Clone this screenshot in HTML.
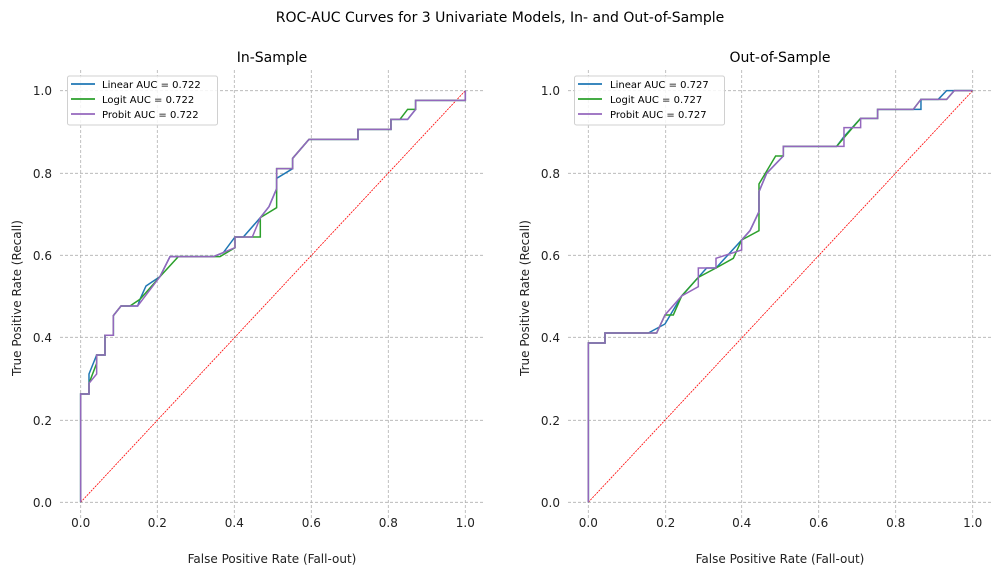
<!DOCTYPE html>
<html><head><style>
body{margin:0;background:#fff;}
svg{font-family:"DejaVu Sans","Liberation Sans",sans-serif;}
</style></head><body>
<svg width="1001" height="576" xmlns="http://www.w3.org/2000/svg">
<rect width="1001" height="576" fill="#fff"/>
<text x="500" y="22" font-size="14" text-anchor="middle">ROC-AUC Curves for 3 Univariate Models, In- and Out-of-Sample</text>
<text x="272" y="62" font-size="14" text-anchor="middle">In-Sample</text>
<text x="780" y="62" font-size="14" text-anchor="middle">Out-of-Sample</text>

<!-- Left grid -->
<g stroke="#b0b0b0" stroke-width="0.8" stroke-dasharray="3,2">
<line x1="80.7" y1="70" x2="80.7" y2="520"/><line x1="157.3" y1="70" x2="157.3" y2="520"/><line x1="234.3" y1="70" x2="234.3" y2="520"/><line x1="311.3" y1="70" x2="311.3" y2="520"/><line x1="388.3" y1="70" x2="388.3" y2="520"/><line x1="465.3" y1="70" x2="465.3" y2="520"/>
<line x1="60" y1="90.7" x2="484" y2="90.7"/><line x1="60" y1="173.3" x2="484" y2="173.3"/><line x1="60" y1="255.3" x2="484" y2="255.3"/><line x1="60" y1="337.3" x2="484" y2="337.3"/><line x1="60" y1="420.3" x2="484" y2="420.3"/><line x1="60" y1="502.3" x2="484" y2="502.3"/>
</g>
<!-- Right grid -->
<g stroke="#b0b0b0" stroke-width="0.8" stroke-dasharray="3,2">
<line x1="588.3" y1="70" x2="588.3" y2="520"/><line x1="665.7" y1="70" x2="665.7" y2="520"/><line x1="741.7" y1="70" x2="741.7" y2="520"/><line x1="818.7" y1="70" x2="818.7" y2="520"/><line x1="895.7" y1="70" x2="895.7" y2="520"/><line x1="972.7" y1="70" x2="972.7" y2="520"/>
<line x1="568" y1="90.7" x2="992" y2="90.7"/><line x1="568" y1="173.3" x2="992" y2="173.3"/><line x1="568" y1="255.3" x2="992" y2="255.3"/><line x1="568" y1="337.3" x2="992" y2="337.3"/><line x1="568" y1="420.3" x2="992" y2="420.3"/><line x1="568" y1="502.3" x2="992" y2="502.3"/>
</g>

<!-- Left curves -->
<g transform="translate(60,70) scale(0.3333)" fill="none" stroke-width="4.5" stroke-linejoin="miter">
<line x1="62" y1="1297" x2="1216" y2="62" stroke="#ff0000" stroke-width="2.4" stroke-dasharray="6,3"/>
<polyline stroke="#1f77b4" points="62,1297 62,972 87,972 87,912 110,855 135,855 135,796 160,796 160,737 183,708 233,708 240,688 258,648 300,620 330,560 460,560 490,548 525,501 550,501 601,443 627,410 650,356 650,325 698,296 698,265 747,208 894,208 894,178 993,178 993,148 1043,148 1067,118 1067,91 1216,91 1216,62"/>
<polyline stroke="#2ca02c" points="62,1297 62,972 87,972 87,940 110,880 110,855 135,855 135,796 160,796 160,737 183,708 210,708 240,688 300,620 355,560 480,560 525,533 525,501 577,501 601,501 601,443 650,413 650,296 698,296 698,265 747,208 894,208 894,178 993,178 993,148 1020,148 1043,118 1067,118 1067,91 1216,91 1216,62"/>
<polyline stroke="#9467bd" points="62,1297 62,972 87,972 87,940 110,912 110,855 135,855 135,796 160,796 160,737 183,708 233,708 300,620 330,560 460,560 525,533 525,501 577,501 601,443 627,410 650,356 650,296 698,296 698,265 747,208 894,208 894,178 993,178 993,148 1043,148 1067,118 1067,91 1216,91 1216,62"/>
</g>
<!-- Right curves -->
<g transform="translate(570,70) scale(0.3333)" fill="none" stroke-width="4.5">
<line x1="55" y1="1297" x2="1208" y2="62" stroke="#ff0000" stroke-width="2.4" stroke-dasharray="6,3"/>
<polyline stroke="#1f77b4" points="55,1297 55,819 105,819 105,789 235,789 285,762 335,678 385,622 410,594 438,594 515,510 540,482 567,425 567,365 590,310 640,258 640,229 800,229 822,200 872,145 923,145 923,118 1030,118 1053,118 1053,88 1105,88 1130,62 1208,62"/>
<polyline stroke="#2ca02c" points="55,1297 55,819 105,819 105,789 260,789 285,735 310,735 335,678 385,622 438,594 490,565 515,510 567,482 567,342 617,258 640,258 640,229 800,229 872,145 923,145 923,118 1030,118 1053,88 1130,88 1153,62 1208,62"/>
<polyline stroke="#9467bd" points="55,1297 55,819 105,819 105,789 260,789 285,735 335,678 385,650 385,594 438,594 438,565 515,540 515,510 540,482 567,425 567,365 590,310 640,258 640,229 822,229 822,173 872,173 872,145 923,145 923,118 1030,118 1053,88 1130,88 1153,62 1208,62"/>
</g>

<!-- Legends -->
<g font-size="10">
<rect x="67.5" y="76" width="150" height="49" rx="2" fill="#fff" fill-opacity="0.85" stroke="#d0d0d0"/>
<line x1="71" y1="84" x2="95" y2="84" stroke="#1f77b4" stroke-width="1.8"/><text x="102" y="88">Linear AUC = 0.722</text>
<line x1="71" y1="99" x2="95" y2="99" stroke="#2ca02c" stroke-width="1.8"/><text x="102" y="103">Logit AUC = 0.722</text>
<line x1="71" y1="114" x2="95" y2="114" stroke="#9467bd" stroke-width="1.8"/><text x="102" y="118">Probit AUC = 0.722</text>
<rect x="574.5" y="76" width="150" height="49" rx="2" fill="#fff" fill-opacity="0.85" stroke="#d0d0d0"/>
<line x1="578" y1="84" x2="602" y2="84" stroke="#1f77b4" stroke-width="1.8"/><text x="610" y="88">Linear AUC = 0.727</text>
<line x1="578" y1="99" x2="602" y2="99" stroke="#2ca02c" stroke-width="1.8"/><text x="610" y="103">Logit AUC = 0.727</text>
<line x1="578" y1="114" x2="602" y2="114" stroke="#9467bd" stroke-width="1.8"/><text x="610" y="118">Probit AUC = 0.727</text>
</g>

<!-- Tick labels -->
<g font-size="12" fill="#222">
<g text-anchor="end">
<text x="52" y="95">1.0</text><text x="52" y="178">0.8</text><text x="52" y="260">0.6</text><text x="52" y="342">0.4</text><text x="52" y="425">0.2</text><text x="52" y="507">0.0</text>
<text x="560" y="95">1.0</text><text x="560" y="178">0.8</text><text x="560" y="260">0.6</text><text x="560" y="342">0.4</text><text x="560" y="425">0.2</text><text x="560" y="507">0.0</text>
</g>
<g text-anchor="middle">
<text x="80.7" y="527">0.0</text><text x="157.3" y="527">0.2</text><text x="234.3" y="527">0.4</text><text x="311.3" y="527">0.6</text><text x="388.3" y="527">0.8</text><text x="465.3" y="527">1.0</text>
<text x="588.3" y="527">0.0</text><text x="665.7" y="527">0.2</text><text x="741.7" y="527">0.4</text><text x="818.7" y="527">0.6</text><text x="895.7" y="527">0.8</text><text x="972.7" y="527">1.0</text>
<text x="272" y="563">False Positive Rate (Fall-out)</text>
<text x="780" y="563">False Positive Rate (Fall-out)</text>
<text transform="translate(21,298) rotate(-90)">True Positive Rate (Recall)</text>
<text transform="translate(529,298) rotate(-90)">True Positive Rate (Recall)</text>
</g>
</g>
</svg>
</body></html>
